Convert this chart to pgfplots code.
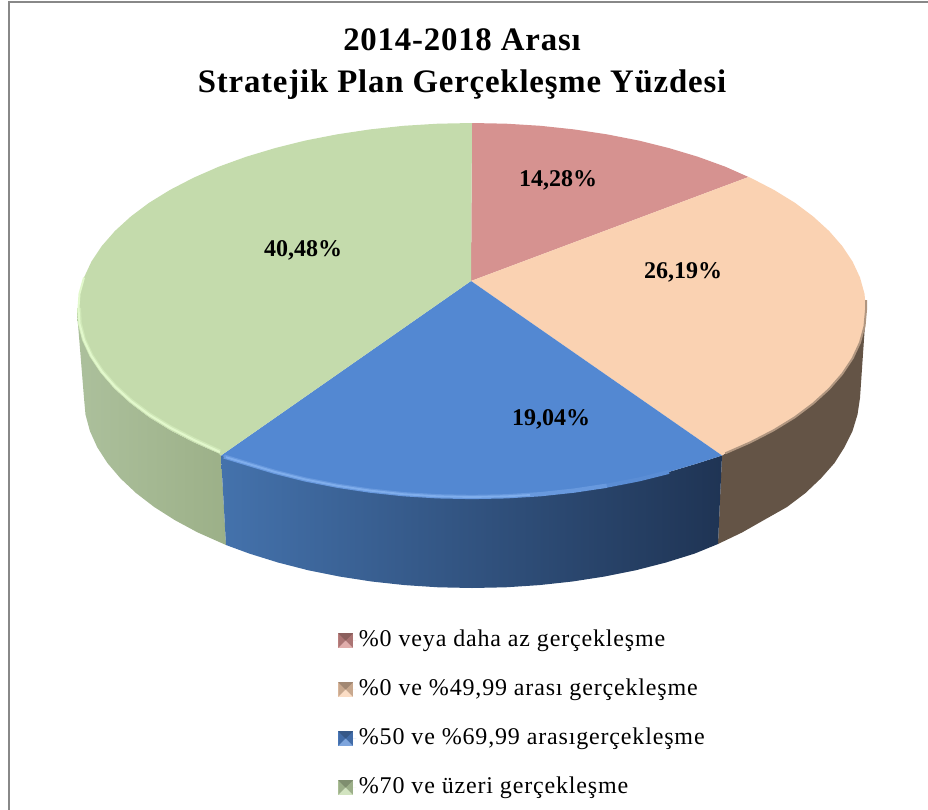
\documentclass[border=0pt]{standalone}
\usepackage{fontspec}
\setmainfont{Liberation Serif}
\newfontfamily\titlefont[LetterSpace=2.5]{Liberation Serif}
\newfontfamily\legfont[LetterSpace=3.5]{Liberation Serif}
\usepackage{pgfplots}
\pgfplotsset{compat=1.18}
\definecolor{redtop}{RGB}{214,146,144}
\definecolor{peachtop}{RGB}{250,210,178}
\definecolor{bluetop}{RGB}{83,136,210}
\definecolor{greentop}{RGB}{196,219,172}
\begin{document}
\begin{tikzpicture}
\useasboundingbox (0,0) rectangle (696pt,607.5pt);
\begin{axis}[
  at={(0,0)}, anchor=south west,
  scale only axis, width=696pt, height=607.5pt,
  xmin=0, xmax=928, ymin=0, ymax=810, y dir=reverse,
  hide axis, clip=true,
  title={2014-2018 Arası\\Stratejik Plan Gerçekleşme Yüzdesi},
  title style={at={(axis cs:462,72)},anchor=center,align=center,inner sep=0pt,
     font=\titlefont\fontsize{24.6}{32}\selectfont\bfseries},
  legend cell align=left,
  legend style={at={(axis cs:334,714)},anchor=west,draw=none,fill=none,row sep=17.75pt,
     nodes={text height=14pt,text depth=5pt,inner ysep=0pt,font=\legfont\fontsize{18}{20}\selectfont}},
  legend image code/.code={
     \path (0pt,0pt) -- (13.5pt,0pt);
     \fill[#1,draw=none] (0pt,-5.5pt) rectangle (11pt,5.5pt);
     \fill[black,opacity=.35] (0pt,5.5pt) -- (11pt,5.5pt) -- (5.5pt,0pt) -- cycle;
     \fill[black,opacity=.2] (0pt,-5.5pt) -- (0pt,5.5pt) -- (5.5pt,0pt) -- cycle;
     \fill[black,opacity=.2] (11pt,-5.5pt) -- (11pt,5.5pt) -- (5.5pt,0pt) -- cycle;
     \fill[white,opacity=.25] (0pt,-5.5pt) -- (11pt,-5.5pt) -- (5.5pt,0pt) -- cycle;
  },
]
% frame
\addplot[forget plot,draw={rgb,255:red,136;green,136;blue,136},line width=1.6pt] coordinates {(9,812)(9,2)(930,2)};
% side: green
\addplot[forget plot,draw=none,left color={rgb,255:red,172;green,192;blue,156},right color={rgb,255:red,156;green,176;blue,136}] coordinates {
(77,312)(78,310)(79.5,326.3)(84,342.5)(91.4,358.4)(101.8,374)(114.9,389)(130.8,403.5)(149.2,417.3)(170.2,430.2)(193.4,442.2)(218.7,453.3)(221,455.5)
(226,545)(222.6,543.5)(197.6,532.4)(174.8,520.1)(154.2,507)(136,493)(120.4,478.3)(107.4,463)(97.2,447.2)(89.9,431)(85.5,414.6)(84,398)};
% side: peach
\addplot[forget plot,draw=none,fill={rgb,255:red,100;green,84;blue,70}] coordinates {
(866,310)(864.5,326.3)(860,342.5)(852.6,358.4)(842.2,374)(829.1,389)(813.2,403.5)(794.8,417.3)(773.8,430.2)(750.6,442.2)(725.3,453.3)(722,455.5)
(718,544)(742,532.5)(764,520)(787,507)(805.5,493)(821,478.3)(834.5,463)(844.5,447.2)(852.5,431)(857.5,414.6)(860,398)};
% side: blue
\addplot[forget plot,draw=none,left color={rgb,255:red,68;green,114;blue,172},middle color={rgb,255:red,52;green,84;blue,130},right color={rgb,255:red,31;green,52;blue,84}] coordinates {
(221,455.5)(246,463.2)(275,471.9)(305.5,479.5)(337.3,485.7)(370,490.6)(403.6,494.2)(437.6,496.3)(472,497)(506.4,496.3)(540.4,494.2)(574,490.6)(606.7,485.7)(638.5,479.5)(669,471.9)(698,463.2)(722,455.5)
(718,544)(694.6,553.6)(666,562.5)(636,570.2)(604.7,576.5)(572.4,581.5)(539.4,585.1)(505.8,587.3)(472,588)(438.2,587.3)(404.6,585.1)(371.6,581.5)(339.3,576.5)(308,570.2)(278,562.5)(249.4,553.6)(226,545)};
% top: red
\addplot[draw=none,fill=redtop] coordinates {
(471,281)(472,123)(506.4,123.7)(540.4,125.8)(574,129.4)(606.7,134.3)(638.5,140.5)(669,148.1)(698,156.8)(725.3,166.7)(748.5,177)};
\addlegendentry{\%0 veya daha az gerçekleşme}
% top: peach
\addplot[draw=none,fill=peachtop] coordinates {
(471,281)(748.5,177)(750.6,177.8)(773.8,189.8)(794.8,202.7)(813.2,216.5)(829.1,231)(842.2,246)(852.6,261.6)(860,277.5)(864.5,293.7)(866,310)(864.5,326.3)(860,342.5)(852.6,358.4)(842.2,374)(829.1,389)(813.2,403.5)(794.8,417.3)(773.8,430.2)(750.6,442.2)(725.3,453.3)(722,455.5)};
\addlegendentry{\%0 ve \%49,99 arası gerçekleşme}
% top: blue
\addplot[draw=none,fill=bluetop] coordinates {
(471,281)(722,455.5)(698,463.2)(669,471.9)(638.5,479.5)(606.7,485.7)(574,490.6)(540.4,494.2)(506.4,496.3)(472,497)(437.6,496.3)(403.6,494.2)(370,490.6)(337.3,485.7)(305.5,479.5)(275,471.9)(246,463.2)(221,455.5)};
\addlegendentry{\%50 ve \%69,99 arasıgerçekleşme}
% top: green
\addplot[draw=none,fill=greentop] coordinates {
(471,281)(221,455.5)(218.7,453.3)(193.4,442.2)(170.2,430.2)(149.2,417.3)(130.8,403.5)(114.9,389)(101.8,374)(91.4,358.4)(84,342.5)(79.5,326.3)(78,310)(79.5,293.7)(84,277.5)(91.4,261.6)(101.8,246)(114.9,231)(130.8,216.5)(149.2,202.7)(170.2,189.8)(193.4,177.8)(218.7,166.7)(246,156.8)(275,148.1)(305.5,140.5)(337.3,134.3)(370,129.4)(403.6,125.8)(437.6,123.7)(472,123)};
\addlegendentry{\%70 ve üzeri gerçekleşme}
% rims: green
\addplot[forget plot,no marks,draw={rgb,255:red,208;green,232;blue,184},line width=3pt] coordinates {
(220,451.5)(193.4,439.2)(170.2,427.2)(149.2,414.3)(130.8,400.5)(114.9,386)(101.8,371)(91.4,355.4)(84,339.5)(79.8,323.3)(79,308)};
\addplot[forget plot,no marks,draw={rgb,255:red,226;green,248;blue,204},line width=1.5pt] coordinates {
(220,452)(193.4,439.7)(170.2,427.7)(149.2,414.8)(130.8,401)(114.9,386.5)(101.8,371.5)(91.4,355.9)(84,340)(79.5,323.8)(78.5,308)(79.5,293.7)(84,277.5)};
% rims: blue
\addplot[forget plot,no marks,draw={rgb,255:red,90;green,141;blue,213},line width=3pt] coordinates {
(600,486.5)(606.7,485.7)(638.5,479.5)(669,471.9)};
\addplot[forget plot,no marks,draw={rgb,255:red,104;green,153;blue,222},line width=3.2pt] coordinates {
(224,456.5)(246,463.2)(275,471.9)(305.5,479.5)(337.3,485.7)(370,490.6)(403.6,494.2)(437.6,496.3)(472,497)(506.4,496.3)(540.4,494.2)(574,490.6)(606.7,485.7)};
\addplot[forget plot,no marks,draw={rgb,255:red,128;green,174;blue,236},line width=1.4pt] coordinates {
(226,457.2)(246,463.2)(275,471.9)(305.5,479.5)(337.3,485.7)(370,490.6)(403.6,494.2)(437.6,496.3)(472,497)(506.4,496.3)(530,495)};
% rim: peach
\addplot[forget plot,no marks,draw={rgb,255:red,176;green,150;blue,128},line width=1.5pt] coordinates {
(866,300)(866,310)(864.5,326.3)(860,342.5)(852.6,358.4)(842.2,374)(829.1,389)(813.2,403.5)(794.8,417.3)(773.8,430.2)(750.6,442.2)(725.3,453.3)};
% data labels
\node[font=\bfseries\fontsize{18}{20}\selectfont] at (axis cs:558,180.5) {14,28\%};
\node[font=\bfseries\fontsize{18}{20}\selectfont] at (axis cs:683,272.5) {26,19\%};
\node[font=\bfseries\fontsize{18}{20}\selectfont] at (axis cs:551,419.5) {19,04\%};
\node[font=\bfseries\fontsize{18}{20}\selectfont] at (axis cs:303,250.5) {40,48\%};
\end{axis}
\end{tikzpicture}
\end{document}
